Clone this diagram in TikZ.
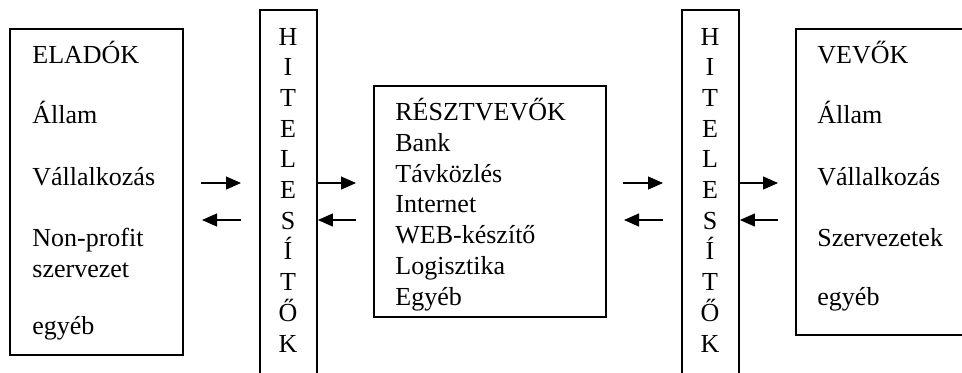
\documentclass[tikz,border=0pt]{standalone}
\usepackage{fontspec}
\setmainfont{Liberation Serif}
\usetikzlibrary{arrows.meta,positioning}

\tikzset{
	box/.style={draw, line width=0.9pt, inner sep=0pt},
	txt/.style={anchor=base west, inner sep=0pt, font=\fontsize{13pt}{15.5pt}\selectfont},
	letter/.style={anchor=base, inner sep=0pt, font=\fontsize{13pt}{15.5pt}\selectfont},
	flow/.style={line width=0.55pt, -{Triangle[length=7.5pt,width=6.5pt]}}
}

\begin{document}
\begin{tikzpicture}[x=0.5pt,y=-0.5pt]
	\useasboundingbox (0,0) rectangle (962,372);
	\clip (0,0) rectangle (962,372);
	% boxes
	\node (eladok) at (96.5,192)[box, minimum width=86.5pt, minimum height=163pt] {};
	\node (hit1) at (288.5,200)[box, minimum width=28.5pt, minimum height=190pt] {};
	\node (resztv) at (490,201.5)[box, minimum width=116pt, minimum height=115.5pt] {};
	\node (hit2) at (710.5,200)[box, minimum width=28.5pt, minimum height=190pt] {};
	\node (vevok) at (893,182)[box, minimum width=97pt, minimum height=153pt] {};
	% texts
	\node (e1) at (32,63)[txt] {ELADÓK};
	\node (e2) at (32,123)[txt] {Állam};
	\node (e3) at (32,185)[txt] {Vállalkozás};
	\node (e4) at (32,246)[txt] {Non-profit};
	\node (e5) at (32,277)[txt] {szervezet};
	\node (e6) at (32,334)[txt] {egyéb};
	\node (r1) at (395,120)[txt] {RÉSZTVEVŐK};
	\node (r2) at (395,151)[txt] {Bank};
	\node (r3) at (395,182)[txt] {Távközlés};
	\node (r4) at (395,212.5)[txt] {Internet};
	\node (r5) at (395,243)[txt] {WEB-készítő};
	\node (r6) at (395,274)[txt] {Logisztika};
	\node (r7) at (395,305)[txt] {Egyéb};
	\node (v1) at (817,63)[txt] {VEVŐK};
	\node (v2) at (817,123)[txt] {Állam};
	\node (v3) at (817,185)[txt] {Vállalkozás};
	\node (v4) at (817,246)[txt] {Szervezetek};
	\node (v5) at (817,305)[txt] {egyéb};
	\foreach \b [count=\i] in {H,I,T,E,L,E,S,Í,T,Ő,K} {
		\node (ha\i) at (288,45+30.7*\i-30.7)[letter] {\b};
		\node (hb\i) at (710,45+30.7*\i-30.7)[letter] {\b};
	}
	% arrows
	\coordinate (a1) at (201,183);
	\coordinate (a2) at (241,183);
	\coordinate (a3) at (241,220);
	\coordinate (a4) at (202,220);
	\coordinate (b1) at (356,183);
	\coordinate (b2) at (356,220);
	\coordinate (c1) at (623,183);
	\coordinate (c2) at (663,183);
	\coordinate (c3) at (663,220);
	\coordinate (c4) at (624,220);
	\coordinate (d1) at (778,183);
	\coordinate (d2) at (778,220);
	\draw[flow] (a1)--(a2);
	\draw[flow] (a3)--(a4);
	\draw[flow] (hit1.east |- b1)--(b1);
	\draw[flow] (b2)--(hit1.east |- b2);
	\draw[flow] (c1)--(c2);
	\draw[flow] (c3)--(c4);
	\draw[flow] (hit2.east |- d1)--(d1);
	\draw[flow] (d2)--(hit2.east |- d2);
\end{tikzpicture}
\end{document}
